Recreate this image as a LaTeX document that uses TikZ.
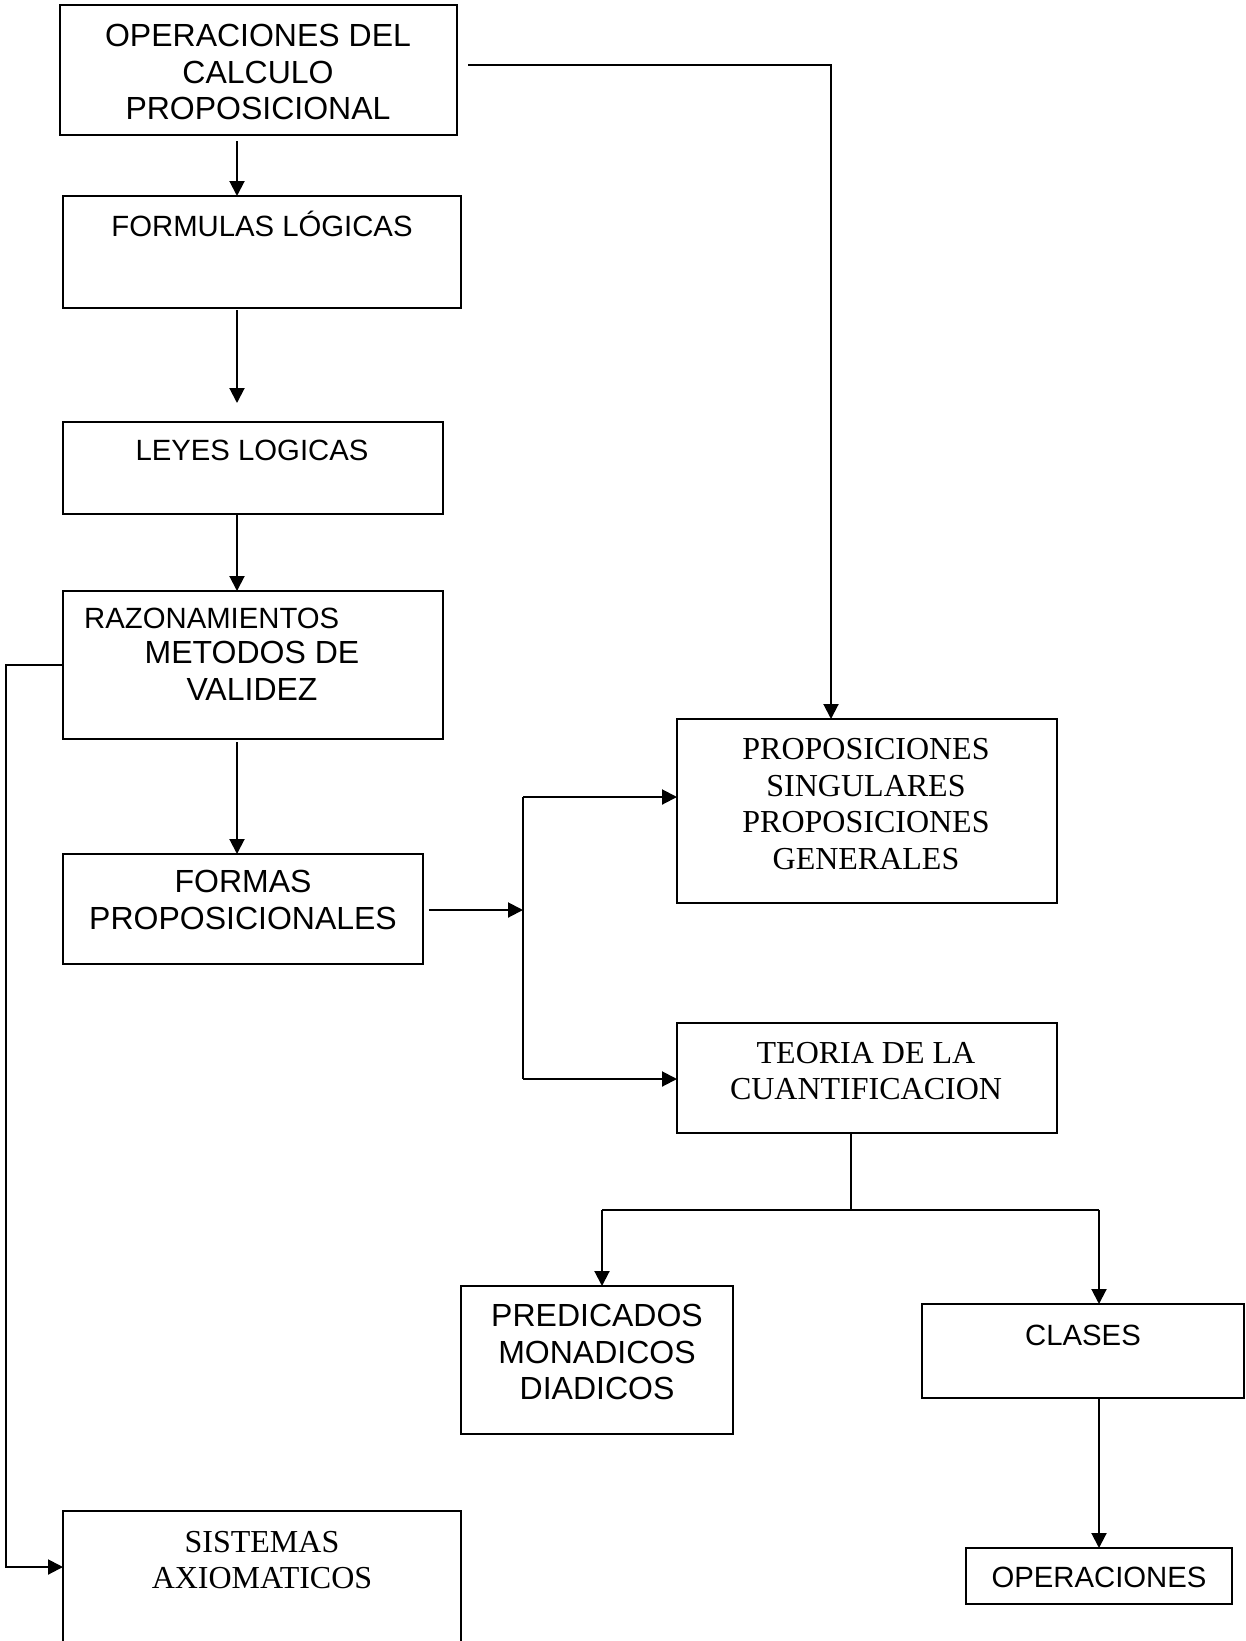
\documentclass[tikz,border=0pt]{standalone}
\usepackage{fontspec}
\setmainfont{Liberation Serif}
\newfontfamily\arialf{Liberation Sans}
\usetikzlibrary{arrows.meta}
\begin{document}
\begin{tikzpicture}[x=1pt,y=-1pt,
  box/.style={draw, line width=2pt, anchor=north west, inner sep=0pt, outer sep=0pt},
  sanstext/.style={align=center, inner sep=0pt, font=\arialf\fontsize{32}{36.5}\selectfont},
  smallsans/.style={align=center, inner sep=0pt, font=\arialf\fontsize{29.3}{36.5}\selectfont},
  seriftext/.style={align=center, inner sep=0pt, font=\fontsize{32}{36.5}\selectfont},
  conn/.style={line width=2pt},
  arr/.style={line width=2pt, -{Triangle[length=15pt,width=15pt]}}]
\useasboundingbox (0,0) rectangle (1245,1641);

% boxes
\node[box, minimum width=397pt, minimum height=130pt] (b1) at (60,5) {};
\node[box, minimum width=398pt, minimum height=112pt] (b2) at (63,196) {};
\node[box, minimum width=380pt, minimum height=92pt] (b3) at (63,422) {};
\node[box, minimum width=380pt, minimum height=148pt] (b4) at (63,591) {};
\node[box, minimum width=360pt, minimum height=110pt] (b5) at (63,854) {};
\node[box, minimum width=380pt, minimum height=184pt] (b6) at (677,719) {};
\node[box, minimum width=380pt, minimum height=110pt] (b7) at (677,1023) {};
\node[box, minimum width=272pt, minimum height=148pt] (b8) at (461,1286) {};
\node[box, minimum width=322pt, minimum height=94pt] (b9) at (922,1304) {};
\node[box, minimum width=266pt, minimum height=56pt] (b10) at (966,1548) {};
\node[box, minimum width=398pt, minimum height=140pt] (b11) at (63,1511) {};

% texts
\node[sanstext] (t1) at (258,72) {OPERACIONES DEL\\CALCULO\\PROPOSICIONAL};
\node[smallsans] (t2) at (262,224) {FORMULAS LÓGICAS};
\node[smallsans] (t3) at (252,450) {LEYES LOGICAS};
\node[smallsans, anchor=west] (t4a) at (84,618) {RAZONAMIENTOS};
\node[sanstext] (t4b) at (252,671) {METODOS DE\\VALIDEZ};
\node[sanstext] (t5) at (243,900) {FORMAS\\PROPOSICIONALES};
\node[seriftext] (t6) at (866,804) {PROPOSICIONES\\SINGULARES\\PROPOSICIONES\\GENERALES};
\node[seriftext] (t7) at (866,1071) {TEORIA DE LA\\CUANTIFICACION};
\node[sanstext] (t8) at (597,1352) {PREDICADOS\\MONADICOS\\DIADICOS};
\node[smallsans] (t9) at (1083,1335) {CLASES};
\node[smallsans] (t10) at (1099,1577) {OPERACIONES};
\node[seriftext] (t11) at (262,1560) {SISTEMAS\\AXIOMATICOS};

% helper coordinates
\coordinate (s1) at (237,141);
\coordinate (s2) at (237,310);
\coordinate (e2) at (237,403);
\coordinate (s4) at (237,742);
\coordinate (r1) at (468,65);
\coordinate (r2) at (831,65);
\coordinate (l1) at (6,665);
\coordinate (l2) at (6,1567);
\coordinate (f1) at (429,910);
\coordinate (j0) at (523,910);
\coordinate (j1) at (523,797);
\coordinate (j2) at (523,1079);
\coordinate (q0) at (851,1133);
\coordinate (q1) at (851,1210);
\coordinate (q2) at (602,1210);
\coordinate (q3) at (1099,1210);
\coordinate (k0) at (1099,1398);

% connectors
\draw[arr] (s1) -- (s1 |- b2.north);
\draw[arr] (s2) -- (e2);
\draw[arr] (s2 |- b3.south) -- (s2 |- b4.north);
\draw[arr] (s4) -- (s4 |- b5.north);
\draw[arr] (r1) -- (r2) -- (r2 |- b6.north);
\draw[arr] (l1 -| b4.west) -- (l1) -- (l2) -- (l2 -| b11.west);
\draw[arr] (f1) -- (j0);
\draw[conn] (j1) -- (j2);
\draw[arr] (j1) -- (j1 -| b6.west);
\draw[arr] (j2) -- (j2 -| b7.west);
\draw[conn] (q0) -- (q1);
\draw[conn] (q2) -- (q3);
\draw[arr] (q2) -- (q2 |- b8.north);
\draw[arr] (q3) -- (q3 |- b9.north);
\draw[arr] (k0) -- (k0 |- b10.north);
\end{tikzpicture}
\end{document}
